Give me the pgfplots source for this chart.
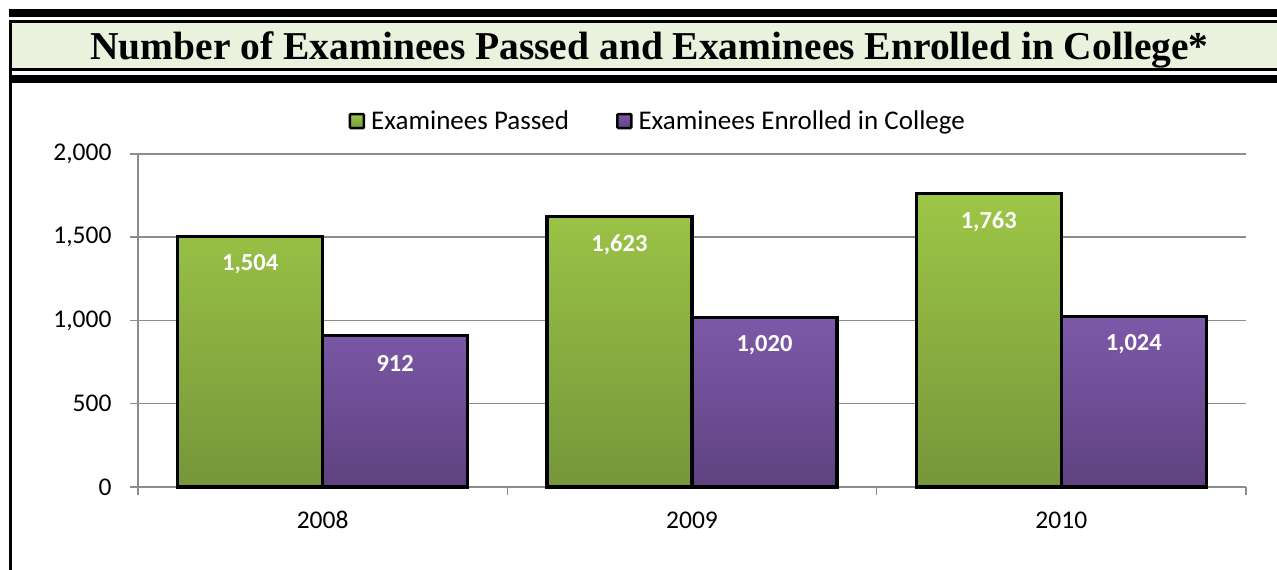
\documentclass[border=0pt]{standalone}
\usepackage{fontspec}
\setmainfont{Carlito}
\newfontfamily\titlefont{Liberation Serif}
\usepackage{pgfplots}
\pgfplotsset{compat=1.18}
\definecolor{gtop}{HTML}{9DC647}
\definecolor{gbot}{HTML}{76963A}
\definecolor{gmid}{HTML}{8CB040}
\definecolor{ptop}{HTML}{7D59A9}
\definecolor{pbot}{HTML}{5E4280}
\definecolor{pmid}{HTML}{7050A0}
\definecolor{titlebg}{HTML}{EAF1DD}
\definecolor{gridgray}{HTML}{8C8C8C}
\begin{document}
\begin{tikzpicture}[x=1pt,y=1pt]
\path[use as bounding box, fill=white] (0,0) rectangle (1277,570);
% title frame
\fill[black] (9,553) rectangle (1277,561);
\fill[black] (9,546.5) rectangle (1277,550);
\fill[titlebg] (12,502) rectangle (1277,546.5);
\fill[black] (9,498.5) rectangle (1277,502);
\fill[black] (9,486.5) rectangle (1277,494.5);
\fill[black] (9,0) rectangle (12,550);
\node[anchor=base, inner sep=0pt, font=\titlefont\bfseries\fontsize{39.5}{44}\selectfont] at (649.5,510) {Number of Examinees Passed and Examinees Enrolled in College*};
\begin{axis}[
  at={(138pt,83pt)}, anchor=south west,
  scale only axis, width=1108pt, height=333pt,
  xmin=-0.5, xmax=2.5, ymin=0, ymax=2000,
  ybar=0pt, bar width=145pt,
  axis x line=bottom, axis y line=left,
  axis line style={draw=gridgray, line width=1.5pt, -},
  /pgf/number format/assume math mode=true,
  /pgf/number format/1000 sep={,},
  xtick={-0.5,0.5,1.5,2.5}, xticklabels={},
  extra x ticks={0,1,2}, extra x tick labels={2008,2009,2010},
  extra x tick style={major tick length=0pt, xticklabel style={yshift=-21pt}},
  ytick={0,500,1000,1500,2000},
  ymajorgrids, major grid style={draw=gridgray, line width=1.5pt},
  tick align=outside,
  major tick length=8pt,
  tick style={draw=gridgray, line width=1.5pt},
  ticklabel style={font=\fontsize{25.5}{28}\selectfont},
  yticklabel style={xshift=-15pt},
  clip=false,
  nodes near coords,
  nodes near coords style={font=\fontsize{24.5}{26}\selectfont\bfseries, text=white, anchor=center, yshift=-28pt},
  legend columns=2,
  legend style={at={(0.19,1.099)}, anchor=west, draw=none, fill=none, inner sep=0pt,
    font=\fontsize{27}{28}\selectfont,
    /tikz/every odd column/.append style={column sep=4pt},
    /tikz/every even column/.append style={column sep=45pt}},
]
\addplot[draw=black, line width=3.2pt, top color=gtop, bottom color=gbot,
  legend image code/.code={\draw[draw=black, line width=2.5pt, fill=gmid, rounded corners=1pt] (0pt,-7pt) rectangle (14pt,7pt);}]
  coordinates {(0,1504) (1,1623) (2,1763)};
\addplot[draw=black, line width=3.2pt, top color=ptop, bottom color=pbot,
  legend image code/.code={\draw[draw=black, line width=2.5pt, fill=pmid, rounded corners=1pt] (0pt,-7pt) rectangle (14pt,7pt);}]
  coordinates {(0,912) (1,1020) (2,1024)};
\legend{Examinees Passed, Examinees Enrolled in College}
\end{axis}
\end{tikzpicture}
\end{document}
